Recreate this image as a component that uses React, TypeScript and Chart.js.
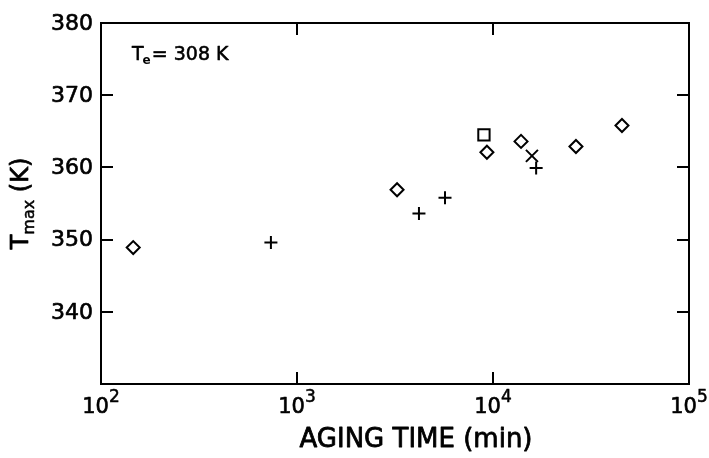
import React, { useEffect, useRef } from 'react';
import { Chart, registerables } from 'chart.js';

Chart.register(...registerables);

// ---- data ----
const diamondTime = [146, 3240, 9310, 13900, 26500, 45500];
const diamondTmax = [348.9, 356.9, 362.1, 363.6, 362.9, 365.8];
const plusTime = [736, 4190, 5690, 16600];
const plusTmax = [349.6, 353.6, 355.8, 359.9];
const squareTime = [8990];
const squareTmax = [364.5];
const crossTime = [15800];
const crossTmax = [361.6];

const xTickValues = [100, 1000, 10000, 100000];
const xTickExponents = ['2', '3', '4', '5'];
const xInnerTickValues = [1000, 10000];
const yTickValues = [340, 350, 360, 370, 380];
const yInnerTickValues = [340, 350, 360, 370];

const xTitle = 'AGING TIME (min)';
const yTitleMain = 'T';
const yTitleSub = 'max';
const yTitleRest = ' (K)';
const noteMain = 'T';
const noteSub = 'e';
const noteRest = '= 308 K';

const FONT = '"DejaVu Sans", "Liberation Sans", Arial, sans-serif';

const toPoints = (xs: number[], ys: number[]) => xs.map((x, i) => ({ x, y: ys[i] }));

function heavyText(ctx: any, text: string, x: number, y: number, size: number) {
  ctx.font = `${size}px ${FONT}`;
  ctx.lineWidth = Math.max(0.5, size * 0.03);
  ctx.lineJoin = 'round';
  ctx.fillText(text, x, y);
  ctx.strokeText(text, x, y);
}

function widthOf(ctx: any, text: string, size: number) {
  ctx.font = `${size}px ${FONT}`;
  return ctx.measureText(text).width;
}

const framePlugin = {
  id: 'framePlugin',
  afterDraw(chart: any) {
    const { ctx, chartArea, scales } = chart;
    const { left, right, top, bottom } = chartArea;
    const xs = scales.x;
    const ys = scales.y;
    ctx.save();
    ctx.strokeStyle = '#000';
    ctx.fillStyle = '#000';
    ctx.lineWidth = 2;
    ctx.strokeRect(left, top, right - left, bottom - top);
    const tl = 12;
    ctx.beginPath();
    yInnerTickValues.forEach((v) => {
      const y = Math.round(ys.getPixelForValue(v));
      ctx.moveTo(left, y);
      ctx.lineTo(left + tl, y);
      ctx.moveTo(right, y);
      ctx.lineTo(right - tl, y);
    });
    xInnerTickValues.forEach((v) => {
      const x = Math.round(xs.getPixelForValue(v));
      ctx.moveTo(x, bottom);
      ctx.lineTo(x, bottom - tl);
      ctx.moveTo(x, top);
      ctx.lineTo(x, top + tl);
    });
    ctx.stroke();

    // y tick labels
    ctx.textAlign = 'right';
    ctx.textBaseline = 'middle';
    ys.ticks.forEach((t: any) => {
      const y = ys.getPixelForValue(t.value);
      heavyText(ctx, String(t.value), left - 8, y + 1, 22);
    });

    // x tick labels with superscript exponents
    ctx.textBaseline = 'alphabetic';
    ctx.textAlign = 'left';
    xs.ticks.forEach((t: any, i: number) => {
      const x = xs.getPixelForValue(t.value);
      const wBase = widthOf(ctx, '10', 21);
      const wExp = widthOf(ctx, xTickExponents[i], 17);
      const start = x - (wBase + wExp) / 2;
      heavyText(ctx, '10', start, bottom + 29, 21);
      heavyText(ctx, xTickExponents[i], start + wBase, bottom + 18, 17);
    });

    // x title
    ctx.textAlign = 'center';
    ctx.textBaseline = 'middle';
    heavyText(ctx, xTitle, 416, 440, 26);

    // y title (rotated) with subscript
    ctx.save();
    ctx.translate(28, (top + bottom) / 2);
    ctx.rotate(-Math.PI / 2);
    ctx.textAlign = 'left';
    ctx.textBaseline = 'alphabetic';
    const wT = widthOf(ctx, yTitleMain, 24);
    const wSub = widthOf(ctx, yTitleSub, 16);
    const wRest = widthOf(ctx, yTitleRest, 24);
    let cx = -(wT + wSub + wRest) / 2;
    heavyText(ctx, yTitleMain, cx, 0, 24);
    cx += wT;
    heavyText(ctx, yTitleSub, cx, 6, 16);
    cx += wSub;
    heavyText(ctx, yTitleRest, cx, 0, 24);
    ctx.restore();

    // annotation T_e = 308 K
    ctx.textAlign = 'left';
    ctx.textBaseline = 'alphabetic';
    let nx = left + 31;
    const ny = top + 37;
    heavyText(ctx, noteMain, nx, ny, 19);
    nx += widthOf(ctx, noteMain, 19) - 1;
    ctx.font = `bold 12px ${FONT}`;
    ctx.fillText(noteSub, nx, ny + 4);
    nx += ctx.measureText(noteSub).width + 1;
    heavyText(ctx, noteRest, nx, ny, 19);
    ctx.restore();
  },
};

export default function App() {
  const canvasRef = useRef<HTMLCanvasElement | null>(null);

  useEffect(() => {
    if (!canvasRef.current) return;
    const common = {
      borderColor: '#000',
      backgroundColor: 'rgba(0,0,0,0)',
      pointBorderWidth: 2,
      showLine: false,
    };
    const chart = new Chart(canvasRef.current, {
      type: 'scatter',
      data: {
        datasets: [
          { ...common, label: 'diamond', data: toPoints(diamondTime, diamondTmax), pointStyle: 'rectRot', pointRadius: 6.5 },
          { ...common, label: 'plus', data: toPoints(plusTime, plusTmax), pointStyle: 'cross', pointRadius: 6.5 },
          { ...common, label: 'square', data: toPoints(squareTime, squareTmax), pointStyle: 'rect', pointRadius: 8 },
          { ...common, label: 'x', data: toPoints(crossTime, crossTmax), pointStyle: 'crossRot', pointRadius: 8.5 },
        ],
      },
      options: {
        responsive: false,
        animation: false,
        layout: { padding: { top: 23, right: 20, left: 0, bottom: 0 } },
        plugins: { legend: { display: false }, tooltip: { enabled: false }, title: { display: false } },
        scales: {
          x: {
            type: 'logarithmic',
            position: 'bottom',
            min: 100,
            max: 100000,
            grid: { display: false, drawTicks: false },
            border: { display: false },
            ticks: { display: false },
            afterBuildTicks: (scale: any) => {
              scale.ticks = xTickValues.map((v) => ({ value: v }));
            },
            afterFit: (scale: any) => {
              scale.height = 74;
              scale.paddingLeft = 0;
              scale.paddingRight = 0;
            },
          },
          y: {
            type: 'linear',
            position: 'left',
            min: 330,
            max: 380,
            grid: { display: false, drawTicks: false },
            border: { display: false },
            ticks: { display: false },
            afterBuildTicks: (scale: any) => {
              scale.ticks = yTickValues.map((v) => ({ value: v }));
            },
            afterFit: (scale: any) => {
              scale.width = 101;
              scale.paddingTop = 0;
              scale.paddingBottom = 0;
            },
          },
        },
      },
      plugins: [framePlugin],
    });
    return () => chart.destroy();
  }, []);

  return (
    <div style={{ position: 'absolute', left: 0, top: 0, width: 709, height: 458, background: '#fff' }}>
      <canvas ref={canvasRef} width={709} height={458} style={{ display: 'block' }} />
    </div>
  );
}
